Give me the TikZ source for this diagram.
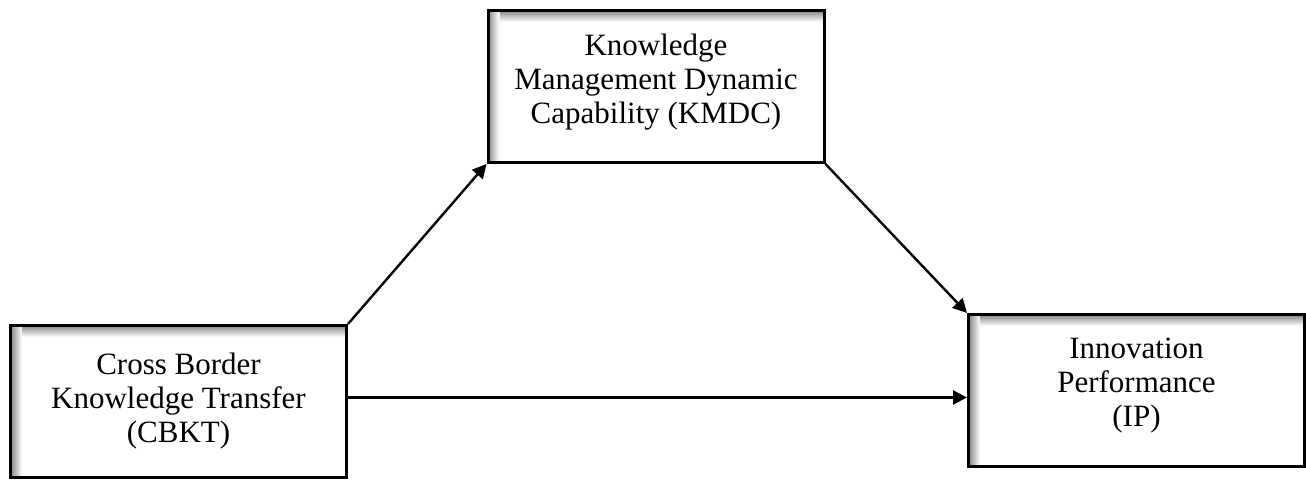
\documentclass[tikz,border=0pt]{standalone}
\usepackage{fontspec}
\setmainfont{Liberation Serif}
\usetikzlibrary{arrows.meta}

\begin{document}
\begin{tikzpicture}[x=0.5pt,y=0.5pt]

        \useasboundingbox (0,0) rectangle (1306,481);

        \begin{scope}[every node/.style={draw, line width=1.5pt, fill=white,
            minimum width=168pt, minimum height=76pt, align=center,
            font=\fontsize{15.5}{17}\selectfont,
            path picture={
              % soft inner shadow along the top and left sides
              \foreach \i in {0,...,11} {
                \draw[black!\fpeval{50-4.2*\i}, line width=0.6pt]
                  ([xshift=\i*0.5pt]path picture bounding box.north west) --
                  ([xshift=\i*0.5pt]path picture bounding box.south west);
                \draw[black!\fpeval{50-4.2*\i}, line width=0.6pt]
                  ([xshift=\i*0.5pt,yshift=-\i*0.5pt]path picture bounding box.north west) --
                  ([yshift=-\i*0.5pt]path picture bounding box.north east);
              }
            }}]
          \node (kmdc) at (656,394.5)  {Knowledge\\Management Dynamic\\Capability (KMDC)\\[-9pt]\mbox{}};
          \node (cbkt) at (178.5,79.5) {Cross Border\\Knowledge Transfer\\(CBKT)};
          \node (ip)   at (1136.5,90.5) {Innovation\\Performance\\(IP)\\[-9pt]\mbox{}};
        \end{scope}

        \begin{scope}[every edge/.style={draw, line width=1.2pt,
            -{Triangle[length=7pt,width=7pt]}}]
          \path (cbkt.north east) edge (kmdc.south west);
          \path (kmdc.south east) edge (ip.north west);
          \path ([yshift=2pt]cbkt.east) edge ([yshift=2pt]cbkt.east -| ip.west);
        \end{scope}

      \end{tikzpicture}
\end{document}
